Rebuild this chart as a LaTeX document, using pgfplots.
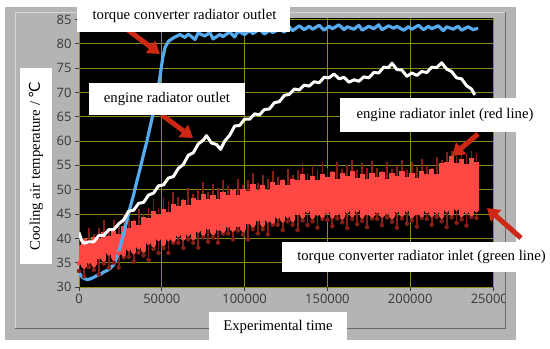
\documentclass[border=0pt]{standalone}
\usepackage{pgfplots}
\pgfplotsset{compat=1.18}
\usepackage{pgfplotstable}
\usetikzlibrary{arrows.meta}
\usepackage{fontspec}
\setmainfont{Liberation Serif}
\newfontfamily\tickfont{Open Sans}
\newfontfamily\symfont{DejaVu Sans}
\definecolor{panelgray}{RGB}{180,180,180}
\definecolor{framedark}{RGB}{105,105,105}
\definecolor{framelight}{RGB}{215,215,215}
\definecolor{gridcol}{RGB}{140,140,30}
\definecolor{tickcol}{RGB}{55,55,55}
\definecolor{bandred}{RGB}{255,72,68}
\definecolor{spikered}{RGB}{135,30,22}
\definecolor{lineblue}{RGB}{85,170,240}
\definecolor{arrowred}{RGB}{205,40,20}
\definecolor{greenline}{RGB}{0,190,0}

% engine radiator inlet (red): t, dark-lower, lower, upper, dark-upper
\pgfplotstableread{
t dlo lo hi dhi
0 33.3 34.9 38.7 40.5
3000 32.2 34.2 39.8 40.0
6000 34.1 35.2 38.8 42.2
9000 33.5 34.5 40.2 41.0
12000 32.6 36.1 39.9 42.1
15000 34.8 35.6 41.4 43.7
18000 34.0 36.9 40.4 41.9
21000 35.0 35.9 41.6 43.7
24000 34.0 36.9 40.9 43.1
27000 36.1 36.7 42.6 45.0
30000 36.2 37.8 42.2 44.0
33000 35.2 37.2 43.5 43.7
36000 37.1 38.2 42.7 46.1
39000 36.5 37.5 44.3 45.1
42000 35.6 39.1 44.1 46.3
45000 37.8 38.6 45.7 48.0
48000 37.0 39.9 44.8 46.3
51000 38.0 38.9 46.1 48.2
54000 37.0 39.9 45.4 47.6
57000 39.1 39.7 47.1 49.5
60000 39.1 40.7 46.7 48.5
63000 38.0 40.0 47.9 48.1
66000 39.8 40.9 46.9 50.3
69000 39.1 40.1 48.3 49.1
72000 38.1 41.6 47.9 50.1
75000 40.2 41.0 49.2 51.5
78000 39.3 42.2 48.0 49.5
81000 40.2 41.1 49.0 51.1
84000 39.1 42.0 48.1 50.3
87000 41.0 41.6 49.6 52.0
90000 41.0 42.6 49.0 50.8
93000 39.8 41.8 50.0 50.2
96000 41.6 42.7 48.9 52.3
99000 40.8 41.8 50.2 51.0
102000 39.8 43.3 49.8 52.0
105000 41.9 42.7 51.1 53.4
108000 41.0 43.9 49.9 51.4
111000 41.9 42.8 50.9 53.0
114000 40.8 43.7 50.0 52.2
117000 42.8 43.4 51.5 53.9
120000 42.8 44.4 50.9 52.7
123000 41.7 43.7 52.0 52.2
126000 43.5 44.6 50.9 54.3
129000 42.8 43.8 52.3 53.1
132000 41.7 45.2 51.9 54.1
135000 43.7 44.5 53.2 55.5
138000 42.7 45.6 52.0 53.5
141000 43.5 44.4 52.9 55.0
144000 42.2 45.1 51.9 54.1
147000 44.0 44.6 53.3 55.7
150000 43.8 45.4 52.6 54.4
153000 42.5 44.5 53.6 53.8
156000 44.1 45.2 52.3 55.7
159000 43.3 44.3 53.4 54.2
162000 42.1 45.6 52.8 55.0
165000 44.0 44.8 53.9 56.2
168000 42.9 45.8 52.5 54.0
171000 43.6 44.5 53.3 55.4
174000 42.3 45.2 52.2 54.4
177000 44.1 44.7 53.5 55.9
180000 44.0 45.6 52.7 54.5
183000 42.7 44.7 53.6 53.8
186000 44.3 45.4 52.3 55.7
189000 43.4 44.4 53.4 54.2
192000 42.2 45.7 52.8 55.0
195000 44.1 44.9 53.9 56.2
198000 43.0 45.9 52.6 54.1
201000 43.7 44.6 53.5 55.6
204000 42.4 45.3 52.5 54.7
207000 44.2 44.8 53.9 56.3
210000 44.0 45.6 53.2 55.0
213000 42.8 44.8 54.3 54.5
216000 44.4 45.5 53.3 56.7
219000 43.5 44.5 55.4 56.2
222000 42.3 45.8 55.6 57.8
225000 44.3 45.1 56.9 57.9
228000 43.2 46.1 55.5 57.0
231000 43.9 44.8 56.3 57.6
234000 42.6 45.5 55.2 57.4
237000 44.4 45.0 56.5 57.9
240000 44.2 45.8 55.7 57.5
}\redband

% torque converter radiator outlet (blue)
\pgfplotstableread{
t v
0 33.0
1500 32.2
3000 31.8
5000 31.5
7000 31.7
9000 32.0
11000 32.4
13000 32.6
15000 33.1
17000 33.4
19000 33.9
21000 34.6
23000 36.2
25000 38.5
27000 41.0
29000 43.8
31000 46.5
33000 49.0
35000 51.8
37000 54.5
39000 57.3
41000 60.0
43000 63.0
45000 66.0
47000 69.0
49000 73.5
50500 77.0
52000 79.3
54000 80.5
56000 81.0
58000 81.4
61000 81.9
64000 81.3
66000 82.0
70000 80.9
72000 82.2
76000 81.6
79000 82.3
81000 81.0
85000 81.9
87000 81.5
91000 82.4
94000 81.4
96000 82.6
100000 81.9
103000 82.7
105000 82.1
109000 83.0
112000 82.0
115000 82.8
117000 82.3
121000 83.1
124000 82.4
127000 83.5
129000 82.7
133000 83.7
136000 82.9
139000 83.6
141000 83.0
145000 83.8
148000 82.8
151000 83.6
153000 83.1
157000 83.9
160000 82.9
162000 83.5
166000 83.0
169000 83.8
171000 82.8
175000 83.6
178000 83.1
181000 83.9
183000 82.9
187000 83.7
190000 83.2
192000 83.6
196000 82.8
199000 83.5
201000 83.0
205000 83.8
208000 82.9
211000 83.6
213000 83.1
217000 83.7
220000 82.7
222000 83.5
226000 83.0
229000 83.6
231000 82.8
235000 83.5
238000 82.9
241000 83.2
}\blueline

% engine radiator outlet (white)
\pgfplotstableread{
t v
0 41.2
1500 39.6
3000 39.0
6000 39.3
9000 39.3
12000 40.6
15000 40.6
18000 41.8
21000 41.8
24000 43.0
27000 43.8
30000 45.6
33000 45.8
36000 47.2
39000 47.4
42000 48.9
45000 49.3
48000 50.8
51000 51.0
54000 52.4
57000 52.7
60000 54.4
63000 55.2
66000 57.1
69000 57.6
72000 59.4
75000 60.2
77000 61.1
80000 59.6
83000 59.3
85500 58.3
88000 60.0
91000 61.2
94000 63.1
97000 63.2
100000 64.5
103000 64.5
106000 65.6
109000 65.4
112000 66.5
115000 66.6
118000 67.9
121000 68.1
124000 69.4
127000 69.6
130000 70.7
133000 70.5
136000 71.5
139000 71.3
142000 72.2
145000 72.0
148000 73.1
151000 73.0
154000 73.8
157000 72.8
160000 73.1
163000 72.1
166000 72.6
169000 72.3
172000 73.2
175000 73.0
178000 74.1
181000 74.0
184000 75.2
187000 75.1
189000 76.0
192000 74.7
195000 74.6
198000 73.3
201000 74.0
204000 73.5
207000 74.3
210000 74.1
213000 75.2
216000 75.1
219000 76.1
222000 74.8
225000 74.3
228000 73.0
231000 72.8
234000 71.4
237000 70.7
239000 69.5
}\whiteline

% torque converter radiator inlet (green, lies under the red band)
\pgfplotstableread{
t v
0 37.0
20000 39.0
40000 41.0
60000 43.0
80000 44.5
100000 45.5
120000 46.5
140000 47.2
160000 47.5
180000 47.6
200000 47.7
220000 48.0
240000 48.2
}\greenline

\begin{document}
\begin{tikzpicture}[x=1bp,y=-1bp]
\path (0,0) rectangle (550,348);
% panel
\fill[panelgray] (5,7) rectangle (516,340);
\draw[framelight, line width=1bp] (15,328) -- (15,12) -- (505,12);
\draw[framedark, line width=1bp] (15,328) -- (505,328) -- (505,12);

\begin{axis}[
  at={(79bp,-287bp)}, anchor=south west,
  scale only axis, width=414bp, height=269bp,
  xmin=0, xmax=250000, ymin=30, ymax=85.3,
  xtick={0,50000,100000,150000,200000,250000},
  ytick={30,35,40,45,50,55,60,65,70,75,80,85},
  scaled x ticks=false,
  /pgf/number format/.cd, fixed, set thousands separator={}, assume math mode=true,
  /pgfplots/.cd,
  axis background/.style={fill=black},
  grid=major, major grid style={draw=gridcol, line width=0.8bp},
  axis line style={draw=none},
  tick align=outside, major tick length=4bp,
  tick style={draw=tickcol, line width=0.8bp},
  xtick pos=bottom, ytick pos=left,
  ticklabel style={font=\tickfont\fontsize{13}{13}\selectfont, text=tickcol},
  clip=true,
]
\addplot[greenline, line width=1bp] table[x=t,y=v] {\greenline};
% dark noise spikes of the red series
\addplot[spikered, only marks, mark=none,
  error bars/.cd, y dir=plus, y explicit, error mark=none,
  error bar style={line width=1.8bp}]
  table[x=t, y=dlo, y error plus expr=\thisrow{dhi}-\thisrow{dlo}] {\redband};
% bright body of the red series
\addplot[bandred, only marks, mark=none,
  error bars/.cd, y dir=plus, y explicit, error mark=none,
  error bar style={line width=5.3bp}]
  table[x=t, y=lo, y error plus expr=\thisrow{hi}-\thisrow{lo}] {\redband};
\addplot[lineblue, line width=3.2bp, line join=round] table[x=t,y=v] {\blueline};
\addplot[white, line width=3bp, line join=round] table[x=t,y=v] {\whiteline};
\end{axis}

% clip the last tick label like the reference
\fill[panelgray] (505.5,292) rectangle (516,325);
\draw[framedark, line width=1bp] (505,290) -- (505,328);

% arrows
\draw[arrowred, line width=5bp, -{Triangle[width=15bp,length=12bp]}] (124,27) -- (160,54);
\draw[arrowred, line width=5bp, -{Triangle[width=15bp,length=12bp]}] (162,115) -- (193,138);
\draw[arrowred, line width=5bp, -{Triangle[width=15bp,length=12bp]}] (478,134) -- (452,156);
\draw[arrowred, line width=5bp, -{Triangle[width=15bp,length=12bp]}] (521,238) -- (487,208);

% labels
\tikzset{lab/.style={fill=white, inner sep=0pt, font=\fontsize{14.8}{16}\selectfont}}
\fill[white] (77,0) rectangle (290,32);
\node[lab] at (184.5,16) {torque converter radiator outlet};
\fill[white] (89,83) rectangle (245,115);
\node[lab] at (167,99) {engine radiator outlet};
\fill[white] (340,98) rectangle (550,132);
\node[lab] at (445,115) {engine radiator inlet (red line)};
\fill[white] (282,242) rectangle (550,272);
\node[lab] at (421.5,257) {torque converter radiator inlet (green line)};
\fill[white] (209,312) rectangle (347,342);
\node[lab] at (278,327) {Experimental time};
\fill[white] (20,68) rectangle (52,264);
\node[lab, rotate=90] at (36,166) {Cooling air temperature / {\symfont ℃}};
\end{tikzpicture}
\end{document}
